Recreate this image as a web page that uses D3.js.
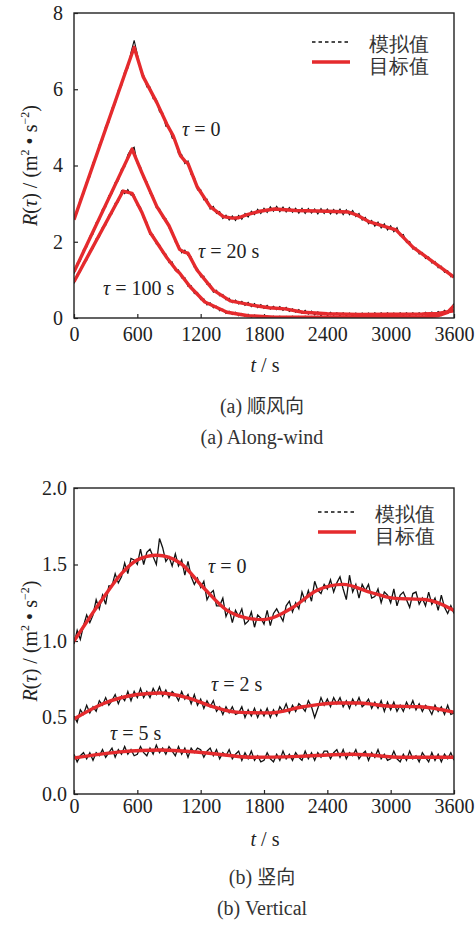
<!DOCTYPE html>
<html>
<head>
<meta charset="utf-8">
<script src="https://cdn.jsdelivr.net/npm/d3@7"></script>
</head>
<body style="margin:0">
<script>
// ---- data ----
const xTicks = [0, 600, 1200, 1800, 2400, 3000, 3600];
const yTicksAlong = [0, 2, 4, 6, 8];
const yTicksVert = [0, 0.5, 1.0, 1.5, 2.0];
const simStep = 30; // s between simulated samples

// target (red) curves, [t, R]
const tgtAlong0 = [[0,2.58],[570,7.1],[655,6.33],[785,5.65],[880,5.08],[940,4.78],[1010,4.25],[1050,4.12],[1080,4.05],[1165,3.45],[1290,2.92],[1415,2.66],[1500,2.62],[1560,2.63],[1640,2.71],[1760,2.80],[1900,2.86],[2100,2.82],[2400,2.80],[2600,2.78],[2680,2.70],[2800,2.52],[3050,2.31],[3210,1.86],[3600,1.07]];
const tgtAlong20 = [[0,1.21],[550,4.43],[645,3.8],[785,2.92],[900,2.42],[1000,1.8],[1050,1.72],[1080,1.70],[1165,1.26],[1320,0.73],[1480,0.45],[1700,0.33],[1850,0.27],[2000,0.24],[2170,0.15],[2400,0.11],[2700,0.095],[3000,0.10],[3300,0.105],[3450,0.12],[3600,0.19]];
const tgtAlong100 = [[0,0.95],[465,3.33],[550,3.27],[645,2.76],[720,2.25],[880,1.58],[975,1.24],[1000,1.18],[1100,0.82],[1240,0.42],[1450,0.15],[1650,0.06],[1900,0.02],[3300,0.02],[3450,0.06],[3540,0.15],[3600,0.32]];
const tgtVert0 = [[0,1.0],[275,1.28],[450,1.44],[600,1.53],[785,1.56],[1005,1.51],[1225,1.35],[1450,1.20],[1640,1.15],[1790,1.14],[2075,1.22],[2300,1.33],[2550,1.37],[2800,1.32],[3020,1.28],[3340,1.27],[3600,1.20]];
const tgtVert2 = [[0,0.49],[275,0.59],[600,0.65],[815,0.66],[1070,0.63],[1320,0.57],[1540,0.535],[1855,0.53],[2170,0.57],[2490,0.595],[2710,0.595],[2960,0.575],[3275,0.57],[3600,0.535]];
const tgtVert5 = [[0,0.235],[435,0.275],[815,0.288],[1225,0.27],[1700,0.24],[2170,0.247],[2645,0.26],[3120,0.24],[3600,0.24]];

// simulated (black) samples every 30 s, 0..3600
const simAlong0 = [
  2.64,2.76,3.13,3.24,3.58,3.70,4.08,4.19,4.55,4.66,
  5.04,5.13,5.51,5.60,5.98,6.08,6.47,6.55,6.97,7.28,
  6.92,6.50,6.37,6.06,6.06,5.75,5.74,5.41,5.38,5.03,
  5.02,4.72,4.68,4.31,4.29,4.05,4.12,3.76,3.70,3.36,
  3.37,3.10,3.12,2.86,2.93,2.74,2.79,2.61,2.70,2.57,
  2.68,2.56,2.69,2.59,2.74,2.65,2.80,2.71,2.85,2.74,
  2.88,2.77,2.92,2.80,2.93,2.79,2.91,2.78,2.90,2.77,
  2.88,2.75,2.88,2.74,2.87,2.75,2.86,2.73,2.87,2.74,
  2.86,2.73,2.85,2.73,2.86,2.71,2.84,2.71,2.82,2.66,
  2.74,2.57,2.64,2.47,2.56,2.41,2.52,2.36,2.47,2.31,
  2.42,2.26,2.37,2.16,2.19,1.98,2.01,1.81,1.84,1.68,
  1.72,1.56,1.60,1.44,1.48,1.32,1.36,1.20,1.24,1.08,
  1.11];
const simAlong20 = [
  1.16,1.44,1.50,1.80,1.86,2.15,2.20,2.50,2.56,2.86,
  2.91,3.21,3.26,3.56,3.60,3.92,3.96,4.28,4.42,4.48,
  4.05,3.97,3.65,3.58,3.27,3.20,2.89,2.87,2.62,2.61,
  2.36,2.29,1.99,1.92,1.71,1.78,1.64,1.60,1.33,1.30,
  1.08,1.10,0.88,0.89,0.68,0.73,0.58,0.62,0.48,0.52,
  0.40,0.47,0.37,0.44,0.33,0.41,0.30,0.38,0.27,0.35,
  0.25,0.33,0.23,0.31,0.22,0.30,0.20,0.28,0.17,0.24,
  0.15,0.22,0.12,0.20,0.10,0.18,0.08,0.16,0.06,0.14,
  0.07,0.15,0.07,0.14,0.06,0.14,0.06,0.13,0.05,0.13,
  0.05,0.13,0.06,0.13,0.06,0.14,0.06,0.14,0.06,0.14,
  0.06,0.13,0.06,0.14,0.06,0.14,0.06,0.14,0.07,0.14,
  0.07,0.15,0.08,0.16,0.09,0.17,0.11,0.20,0.13,0.25,
  0.19];
const simAlong100 = [
  0.90,1.15,1.21,1.46,1.51,1.77,1.82,2.08,2.12,2.39,
  2.43,2.70,2.73,3.01,3.04,3.34,3.26,3.37,3.22,3.23,
  2.95,2.91,2.60,2.52,2.19,2.18,1.94,1.93,1.69,1.68,
  1.45,1.47,1.24,1.26,1.05,1.06,0.83,0.85,0.64,0.67,
  0.48,0.50,0.34,0.40,0.27,0.31,0.19,0.23,0.12,0.18,
  0.09,0.15,0.06,0.12,0.04,0.10,0.02,0.08,0.01,0.06,
  0.00,0.05,0.00,0.05,-0.01,0.05,-0.01,0.04,0.00,0.05,
  0.00,0.04,-0.01,0.05,0.00,0.04,-0.01,0.05,0.00,0.04,
  -0.01,0.05,0.00,0.04,-0.01,0.05,0.00,0.04,-0.01,0.05,
  0.00,0.04,-0.01,0.05,0.00,0.05,-0.01,0.04,0.00,0.05,
  -0.01,0.04,0.00,0.05,-0.01,0.05,0.00,0.04,0.00,0.05,
  0.00,0.05,0.02,0.07,0.03,0.09,0.06,0.15,0.12,0.25,
  0.38];
const simVert0 = [
  0.98,1.07,1.01,1.10,1.17,1.12,1.17,1.27,1.21,1.30,
  1.24,1.36,1.36,1.44,1.38,1.42,1.51,1.44,1.54,1.53,
  1.50,1.60,1.50,1.58,1.60,1.55,1.50,1.67,1.61,1.52,
  1.55,1.49,1.57,1.49,1.53,1.43,1.52,1.42,1.37,1.41,
  1.35,1.39,1.27,1.31,1.33,1.23,1.23,1.28,1.16,1.21,
  1.12,1.20,1.16,1.21,1.11,1.13,1.19,1.09,1.17,1.15,
  1.11,1.20,1.10,1.18,1.21,1.17,1.13,1.23,1.26,1.19,
  1.25,1.21,1.32,1.26,1.33,1.26,1.39,1.33,1.31,1.37,
  1.34,1.40,1.32,1.38,1.42,1.34,1.27,1.43,1.32,1.37,
  1.28,1.37,1.33,1.37,1.28,1.29,1.34,1.25,1.32,1.30,
  1.25,1.34,1.23,1.30,1.32,1.27,1.22,1.31,1.32,1.24,
  1.28,1.23,1.32,1.24,1.28,1.20,1.30,1.22,1.18,1.23,
  1.18];
const simVert2 = [
  0.51,0.47,0.55,0.52,0.58,0.53,0.57,0.54,0.61,0.58,
  0.63,0.58,0.61,0.65,0.59,0.64,0.61,0.67,0.61,0.67,
  0.63,0.69,0.63,0.67,0.63,0.69,0.65,0.70,0.64,0.68,
  0.63,0.67,0.65,0.61,0.67,0.62,0.65,0.59,0.65,0.58,
  0.62,0.56,0.61,0.57,0.61,0.54,0.57,0.52,0.57,0.53,
  0.57,0.52,0.53,0.57,0.50,0.55,0.51,0.56,0.50,0.55,
  0.51,0.56,0.50,0.55,0.51,0.57,0.54,0.59,0.53,0.58,
  0.54,0.59,0.57,0.54,0.61,0.57,0.50,0.56,0.63,0.58,
  0.62,0.57,0.63,0.59,0.63,0.57,0.61,0.56,0.62,0.58,
  0.63,0.57,0.59,0.62,0.56,0.60,0.56,0.61,0.54,0.60,
  0.55,0.60,0.54,0.58,0.54,0.60,0.56,0.61,0.55,0.59,
  0.54,0.58,0.56,0.52,0.58,0.54,0.57,0.52,0.58,0.52,
  0.53];
const simVert5 = [
  0.26,0.21,0.25,0.27,0.23,0.27,0.22,0.27,0.25,0.29,
  0.24,0.27,0.30,0.24,0.29,0.26,0.31,0.26,0.29,0.25,
  0.26,0.31,0.27,0.25,0.30,0.26,0.32,0.27,0.30,0.26,
  0.31,0.28,0.25,0.31,0.26,0.30,0.24,0.30,0.27,0.30,
  0.29,0.24,0.28,0.30,0.25,0.29,0.23,0.27,0.25,0.29,
  0.23,0.26,0.28,0.22,0.27,0.23,0.28,0.22,0.25,0.21,
  0.22,0.27,0.23,0.21,0.26,0.22,0.28,0.23,0.26,0.22,
  0.27,0.24,0.22,0.28,0.23,0.27,0.22,0.27,0.24,0.28,
  0.28,0.23,0.27,0.29,0.24,0.29,0.23,0.27,0.25,0.29,
  0.23,0.26,0.28,0.22,0.27,0.24,0.29,0.23,0.26,0.22,
  0.23,0.28,0.23,0.21,0.26,0.22,0.28,0.23,0.25,0.21,
  0.27,0.24,0.21,0.27,0.22,0.26,0.21,0.26,0.23,0.27,
  0.22];

// ---- drawing ----
const RED = "#e52a2d";
const SERIF = "Liberation Serif";
const CJK = "Noto Sans CJK SC";

const svg = d3.select("body").append("svg")
    .attr("width", 476)
    .attr("height", 925);

svg.append("rect").attr("width", 476).attr("height", 925).attr("fill", "#fff");

const x = d3.scaleLinear().domain([0, 3600]).range([74, 454]);

function addText(parent, px, py, size) {
    return parent.append("text")
        .attr("x", px).attr("y", py)
        .attr("font-family", SERIF)
        .attr("font-size", size)
        .attr("fill", "#222");
}

function drawPanel(p) {
    const y = d3.scaleLinear().domain([0, p.yMax]).range([p.bottom, p.top]);
    const g = svg.append("g");

    g.append("clipPath").attr("id", p.id + "clip")
        .append("rect")
        .attr("x", x(0)).attr("y", p.top)
        .attr("width", x(3600) - x(0)).attr("height", p.bottom - p.top);

    // axes, ticks pointing inward
    const xAx = g.append("g")
        .attr("transform", "translate(0," + p.bottom + ")")
        .call(d3.axisBottom(x).tickValues(xTicks).tickFormat(d3.format("d"))
            .tickSizeInner(-4).tickSizeOuter(0).tickPadding(p.xPad));
    const yAx = g.append("g")
        .attr("transform", "translate(" + x(0) + ",0)")
        .call(d3.axisLeft(y).tickValues(p.yTicks).tickFormat(p.fmt)
            .tickSizeInner(-4).tickSizeOuter(0).tickPadding(p.yPad));
    [xAx, yAx].forEach(a => {
        a.select(".domain").remove();
        a.selectAll("line").attr("stroke", "#222").attr("stroke-width", 1.2);
        a.selectAll("text")
            .attr("font-family", SERIF)
            .attr("font-size", 20)
            .attr("fill", "#222");
    });

    const plot = g.append("g").attr("clip-path", "url(#" + p.id + "clip)");
    const simLine = d3.line().x((d, i) => x(i * simStep)).y(d => y(d));
    const tgtLine = d3.line().x(d => x(d[0])).y(d => y(d[1])).curve(p.curve);

    p.sims.forEach(s => {
        plot.append("path").datum(s)
            .attr("d", simLine)
            .attr("fill", "none")
            .attr("stroke", "#111")
            .attr("stroke-width", p.simW);
    });
    p.tgts.forEach(s => {
        plot.append("path").datum(s)
            .attr("d", tgtLine)
            .attr("fill", "none")
            .attr("stroke", RED)
            .attr("stroke-width", 3.4)
            .attr("stroke-linejoin", "round");
    });

    // frame
    g.append("rect")
        .attr("x", x(0)).attr("y", p.top)
        .attr("width", x(3600) - x(0)).attr("height", p.bottom - p.top)
        .attr("fill", "none").attr("stroke", "#222").attr("stroke-width", 1.4);

    // y title
    const yt = addText(g, 0, 0, 20)
        .attr("transform", "translate(37," + ((p.top + p.bottom) / 2) + ") rotate(-90)")
        .attr("text-anchor", "middle");
    yt.append("tspan").attr("font-style", "italic").text("R");
    yt.append("tspan").text("(");
    yt.append("tspan").attr("font-style", "italic").text("τ");
    yt.append("tspan").text(") / (m");
    yt.append("tspan").attr("font-size", 12).attr("dy", -8).text("2");
    yt.append("tspan").attr("dy", 8).text(" • s");
    yt.append("tspan").attr("font-size", 12).attr("dy", -8).text("−2");
    yt.append("tspan").attr("dy", 8).text(")");

    // x title
    const xt = addText(g, 265, p.xTitleY, 20).attr("text-anchor", "middle");
    xt.append("tspan").attr("font-style", "italic").text("t");
    xt.append("tspan").text(" / s");

    // legend
    const lg = g.append("g");
    lg.append("line")
        .attr("x1", p.legX).attr("x2", p.legX + 37)
        .attr("y1", p.legY).attr("y2", p.legY)
        .attr("stroke", "#111").attr("stroke-width", 1.6).attr("stroke-dasharray", "3.5,3");
    lg.append("line")
        .attr("x1", p.legX).attr("x2", p.legX + 38)
        .attr("y1", p.legY + 20).attr("y2", p.legY + 20)
        .attr("stroke", RED).attr("stroke-width", 3.4);
    addText(lg, p.legX + p.legTx, p.legY + 9, 20).attr("fill", "#333").text("模拟值");
    addText(lg, p.legX + p.legTx, p.legY + 31, 20).attr("fill", "#333").text("目标值");

    // curve labels
    p.notes.forEach(n => {
        const t = addText(g, n[0], n[1], 20);
        t.append("tspan").attr("font-style", "italic").text("τ");
        t.append("tspan").text(" = " + n[2]);
    });

    // captions
    const c1 = addText(g, 262, p.capY, 20).attr("text-anchor", "middle").attr("fill", "#333");
    c1.append("tspan").text(p.capTag + " ");
    c1.append("tspan").attr("font-family", CJK).attr("font-size", 19).text(p.capCn);
    addText(g, 262, p.capY + 31, 20).attr("text-anchor", "middle").attr("fill", "#333")
        .text(p.capTag + " " + p.capEn);
}

drawPanel({
    id: "along", top: 13, bottom: 318, yMax: 8,
    yTicks: yTicksAlong, fmt: d3.format("d"), xPad: 9, yPad: 11,
    curve: d3.curveLinear, simW: 1.1,
    sims: [simAlong100, simAlong20, simAlong0],
    tgts: [tgtAlong100, tgtAlong20, tgtAlong0],
    xTitleY: 372, legX: 312, legY: 42, legTx: 57,
    notes: [[182, 136, "0"], [198, 258, "20 s"], [103, 295, "100 s"]],
    capY: 413, capTag: "(a)", capCn: "顺风向", capEn: "Along-wind"
});

drawPanel({
    id: "vert", top: 488, bottom: 794, yMax: 2,
    yTicks: yTicksVert, fmt: d3.format(".1f"), xPad: 5, yPad: 7,
    curve: d3.curveMonotoneX, simW: 1.3,
    sims: [simVert5, simVert2, simVert0],
    tgts: [tgtVert5, tgtVert2, tgtVert0],
    xTitleY: 846, legX: 318, legY: 512, legTx: 57,
    notes: [[208, 573, "0"], [211, 691, "2 s"], [110, 740, "5 s"]],
    capY: 884, capTag: "(b)", capCn: "竖向", capEn: "Vertical"
});
</script>
</body>
</html>
